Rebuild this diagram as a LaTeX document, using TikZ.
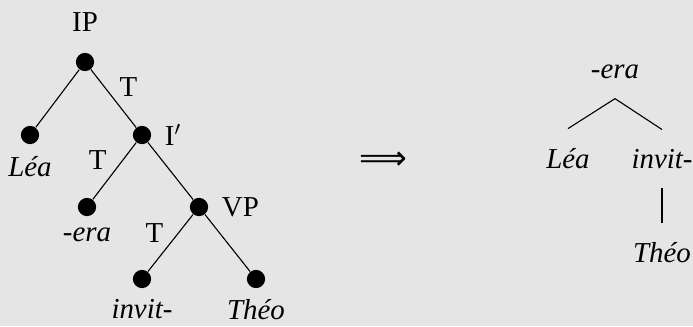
\documentclass[tikz,border=0pt]{standalone}
\usepackage{fontspec}
\setmainfont{Liberation Serif}
\newfontfamily\arrowfont{DejaVu Sans}
\usetikzlibrary{positioning}
\definecolor{bggray}{RGB}{229,229,229}
\definecolor{inkblack}{RGB}{0,0,0}
\newcommand{\treefont}{\fontsize{13pt}{15pt}\selectfont}
\tikzset{
    treedot/.style={circle, fill=inkblack, inner sep=0pt, minimum size=8.2pt},
    catlabel/.style={text=inkblack, font=\treefont, inner sep=3.33pt},
    leaf/.style={text=inkblack, font=\treefont\itshape, inner sep=3.33pt},
    tlabel/.style={text=inkblack, font=\treefont, inner sep=0pt},
    word/.style={text=inkblack, font=\treefont\itshape, inner xsep=0pt, inner ysep=8.5pt},
    branch/.style={draw=inkblack, line width=0.5pt}
}

\begin{document}
\begin{tikzpicture}[x=0.45pt, y=-0.45pt]
            \useasboundingbox (0,0) rectangle (693,326);
            \fill[bggray] (0,0) rectangle (693,326);

            % left tree
            \node (root) [treedot] at (85,62) {};
            \node (lea) [treedot] at (30,135) {};
            \node (ibar) [treedot] at (142,135) {};
            \node (era) [treedot] at (87,207) {};
            \node (vp) [treedot] at (199,207) {};
            \node (invit) [treedot] at (142,279) {};
            \node (theo) [treedot] at (256,279) {};

            \node (iplab) [catlabel, above=6pt of root] {IP};
            \node (ibarlab) [catlabel, right=2.5pt of ibar] {I$'$};
            \node (vplab) [catlabel, right=2.5pt of vp] {VP};
            \node (lealab) [leaf, below=2pt of lea] {Léa};
            \node (eralab) [leaf, below=1.5pt of era] {-era};
            \node (invitlab) [leaf, below=1.5pt of invit] {invit-};
            \node (theolab) [leaf, below=1.5pt of theo] {Théo};

            \draw [branch] (root) -- (lea);
            \draw [branch] (root) -- node [tlabel, midway, above right=0.5pt and 2.5pt] {T} (ibar);
            \draw [branch] (ibar) -- node [tlabel, midway, above left=0.3pt and 3.3pt] {T} (era);
            \draw [branch] (ibar) -- (vp);
            \draw [branch] (vp) -- node [tlabel, midway, above left=0pt and 3pt] {T} (invit);
            \draw [branch] (vp) -- (theo);

            \node (implies) at (383,161) {\arrowfont\fontsize{15pt}{17pt}\selectfont ⟹};

            % right tree
            \node (rera) [word, anchor=base] at (615,79) {-era};
            \node (rlea) [word, anchor=base] at (568,168) {Léa};
            \node (rinvit) [word, anchor=base] at (662,168) {invit-};
            \node (rtheo) [word, anchor=base] at (662,262) {Théo};

            \draw [branch] (rera.south) -- (rlea.north);
            \draw [branch] (rera.south) -- (rinvit.north);
            \draw [branch] (rinvit.south) -- (rtheo.north);
        \end{tikzpicture}
\end{document}
